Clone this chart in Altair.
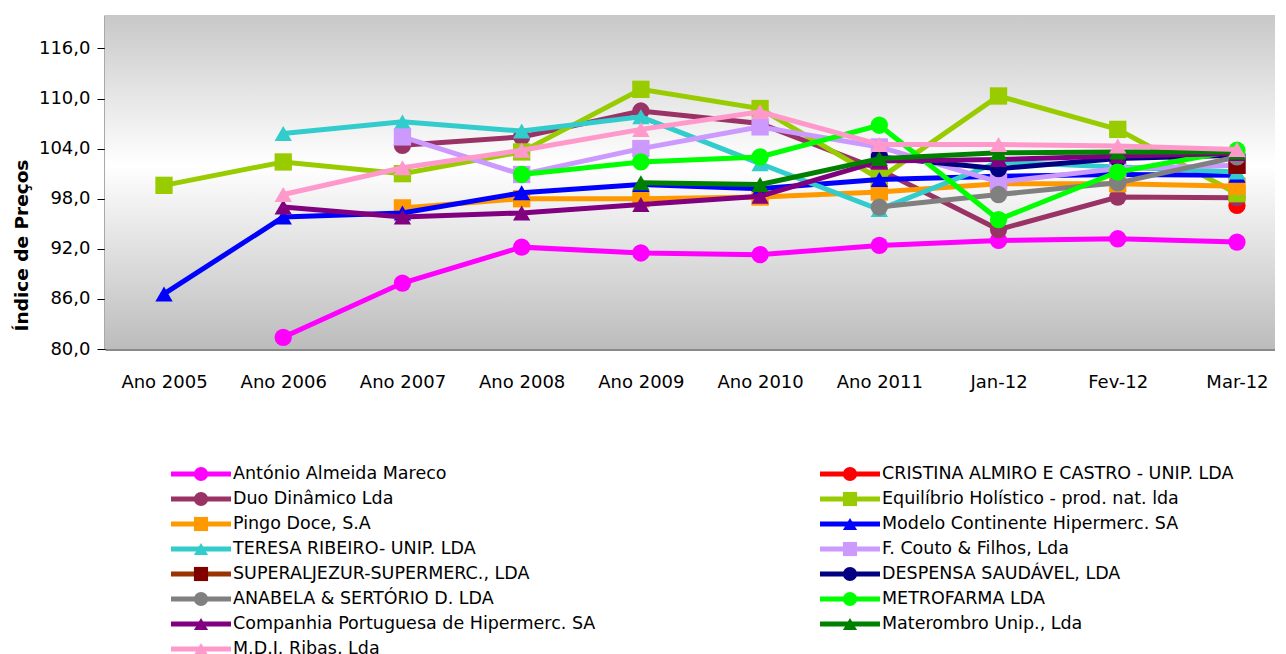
import altair as alt
import pandas as pd

periods = ["Ano 2005", "Ano 2006", "Ano 2007", "Ano 2008", "Ano 2009",
           "Ano 2010", "Ano 2011", "Jan-12", "Fev-12", "Mar-12"]

N = None
names = [
    "António Almeida Mareco",
    "CRISTINA ALMIRO E CASTRO - UNIP. LDA",
    "Duo Dinâmico Lda",
    "Equilíbrio Holístico - prod. nat. lda",
    "Pingo Doce, S.A",
    "Modelo Continente Hipermerc. SA",
    "TERESA RIBEIRO- UNIP. LDA",
    "F. Couto & Filhos, Lda",
    "SUPERALJEZUR-SUPERMERC., LDA",
    "DESPENSA SAUDÁVEL, LDA",
    "ANABELA & SERTÓRIO D. LDA",
    "METROFARMA LDA",
    "Companhia Portuguesa de Hipermerc. SA",
    "Materombro Unip., Lda",
    "M.D.J. Ribas, Lda",
]

mareco = [N, 81.4, 87.9, 92.2, 91.5, 91.3, 92.4, 93.0, 93.2, 92.8]
cristina = [N, N, N, N, N, N, N, N, N, 97.2]
duo = [N, N, 104.4, 105.4, 108.5, 107.0, 101.5, 94.3, 98.2, 98.1]
equilibrio = [99.6, 102.4, 101.0, 103.6, 111.1, 108.8, 100.4, 110.3, 106.3, 98.6]
pingo = [N, N, 96.9, 98.0, 98.0, 98.2, 98.8, 99.8, 99.8, 99.5]
modelo = [86.6, 95.8, 96.3, 98.7, 99.7, 99.2, 100.3, 100.7, 100.9, 100.8]
teresa = [N, 105.8, 107.2, 106.1, 107.8, 102.2, 96.7, 102.4, 101.8, 101.2]
couto = [N, N, 105.4, 100.9, 104.0, 106.6, 104.2, 100.0, 101.6, 102.0]
superaljezur = [N, N, N, N, N, N, N, N, N, 102.0]
despensa = [N, N, N, N, N, N, 103.0, 101.6, 102.8, 103.2]
anabela = [N, N, N, N, N, N, 97.0, 98.5, 99.9, 103.0]
metrofarma = [N, N, N, 100.9, 102.4, 103.0, 106.8, 95.5, 101.2, 103.8]
companhia = [N, 97.0, 95.8, 96.3, 97.3, 98.3, 102.5, 102.7, 103.1, 103.4]
materombro = [N, N, N, N, 99.9, 99.7, 102.8, 103.5, 103.6, 103.6]
ribas = [N, 98.5, 101.7, 103.8, 106.3, 108.4, 104.5, 104.5, 104.3, 103.9]

series_values = [mareco, cristina, duo, equilibrio, pingo, modelo, teresa, couto,
                 superaljezur, despensa, anabela, metrofarma, companhia, materombro, ribas]

marker_colors = ["#FF00FF", "#FF0000", "#993366", "#99CC00", "#FF9900", "#0000FF",
                 "#33CCCC", "#CC99FF", "#800000", "#000080", "#808080", "#00FF00",
                 "#800080", "#008000", "#FF99CC"]
line_colors = ["#FF00FF", "#FF0000", "#993366", "#99CC00", "#FF9900", "#0000FF",
               "#33CCCC", "#CC99FF", "#993300", "#000080", "#808080", "#00FF00",
               "#800080", "#008000", "#FF99CC"]
shapes = ["circle", "circle", "circle", "square", "square", "triangle-up",
          "triangle-up", "square", "square", "circle", "circle", "circle",
          "triangle-up", "triangle-up", "triangle-up"]

y_ticks = [80, 86, 92, 98, 104, 110, 116]

FONT = "DejaVu Sans"

label_array = "[" + ",".join("'" + p + "'" for p in periods) + "]"

x_enc = alt.X("idx:Q",
              scale=alt.Scale(domain=[-0.495, 9.319], nice=False, zero=False),
              axis=alt.Axis(title=None, values=list(range(len(periods))),
                            labelExpr=label_array + "[datum.value]",
                            labelFontSize=18, labelFont=FONT, labelColor="#000",
                            labelPadding=24, ticks=False, grid=False,
                            domainColor="#8a8a8a", domainWidth=3, labelAngle=0,
                            labelFlush=False, labelOverlap=False))
y_enc = alt.Y("value:Q",
              scale=alt.Scale(domain=[80, 120], nice=False, zero=False),
              axis=alt.Axis(title="Índice de Preços", values=y_ticks,
                            labelExpr="replace(format(datum.value, '.1f'), '.', ',')",
                            labelFontSize=18, labelFont=FONT, labelColor="#000",
                            labelPadding=7, tickSize=8, tickColor="#000", tickWidth=1,
                            domainColor="#555", domainWidth=2,
                            grid=True, gridColor="#000", gridOpacity=0.85, gridWidth=1,
                            titleFont=FONT, titleFontSize=18.5, titleFontWeight="bold",
                            titleColor="#000", titleX=-74, titleY=230))

gradient = alt.Gradient(
    gradient="linear", x1=0, x2=0, y1=0, y2=1,
    stops=[alt.GradientStop(offset=0, color="#c8c8c8"),
           alt.GradientStop(offset=0.45, color="#ffffff"),
           alt.GradientStop(offset=1, color="#bcbcbc")])

bg = alt.Chart(pd.DataFrame({"a": [0]})).mark_rect(color=gradient).encode(
    x=alt.value(0), x2=alt.value("width"), y=alt.value(0), y2=alt.value("height"))

layers = [bg]
for i, name in enumerate(names):
    rows = [(k, v) for k, v in enumerate(series_values[i]) if v is not None]
    df = pd.DataFrame(rows, columns=["idx", "value"])
    df["series"] = name
    base = alt.Chart(df)
    if len(df) > 1:
        layers.append(base.mark_line(color=line_colors[i], strokeWidth=5).encode(x=x_enc, y=y_enc))
    layers.append(base.mark_point(filled=True, shape=shapes[i], size=300, opacity=1,
                                  color=marker_colors[i]).encode(x=x_enc, y=y_enc))

main = alt.layer(*layers)

# legend (two columns, row-major)
leg_df = pd.DataFrame({
    "name": names,
    "col": [i % 2 for i in range(len(names))],
    "row": [i // 2 for i in range(len(names))],
    "mcolor": marker_colors,
    "lcolor": line_colors,
    "shape": shapes,
})
lx = alt.X("col:Q", scale=alt.Scale(domain=[0, 1], range=[96, 745]), axis=None)
ly = alt.Y("row:Q", scale=alt.Scale(domain=[0, 7], range=[459, 634]), axis=None)
leg_base = alt.Chart(leg_df)
leg_lines = leg_base.mark_tick(orient="horizontal", size=60, thickness=5, opacity=1).encode(
    x=lx, y=ly, color=alt.Color("lcolor:N", scale=None))
leg_pts = leg_base.mark_point(filled=True, size=200, opacity=1).encode(
    x=lx, y=ly, color=alt.Color("mcolor:N", scale=None),
    shape=alt.Shape("shape:N", scale=None))
leg_text = leg_base.mark_text(align="left", baseline="middle", dx=32, font=FONT,
                              fontSize=17.5, color="#000").encode(x=lx, y=ly, text="name:N")
legend = alt.layer(leg_lines, leg_pts, leg_text)

chart = alt.layer(main, legend).resolve_scale(x="independent", y="independent").properties(
    width=1170, height=334,
    padding={"top": 7, "left": 4, "right": 0, "bottom": 0},
).configure_view(stroke="#8c8c8c", strokeWidth=2).configure(background="#ffffff")

chart.save("out.html", embed_options={"renderer": "svg", "actions": False})
